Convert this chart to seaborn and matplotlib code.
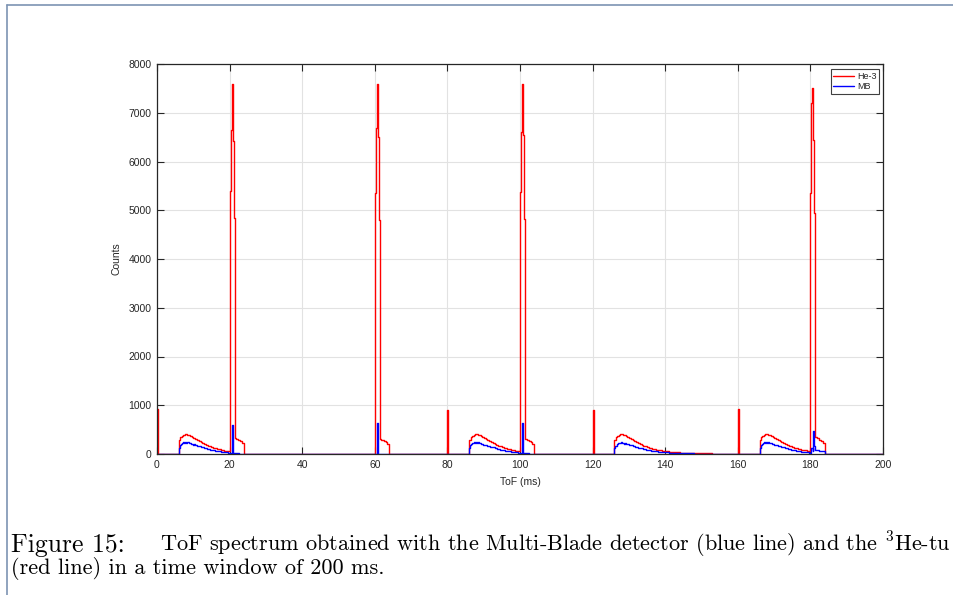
import matplotlib
matplotlib.use("Agg")
import matplotlib.pyplot as plt
from matplotlib.lines import Line2D
import numpy as np
import pandas as pd
import seaborn as sns

# ---- He-3 tube counts (step histogram: bin start time in ms, counts) ----
he3_tof = [
    0.0, 0.25,
    6.0, 6.4, 6.8, 7.2, 7.6, 8.0, 8.4, 8.8, 9.2, 9.6, 10.0, 10.5, 11.0, 11.5,
    12.0, 12.5, 13.0, 13.5, 14.0, 14.5, 15.0, 15.5, 16.0, 16.5, 17.0, 17.5,
    18.0, 18.5, 19.0, 19.5,
    20.0, 20.25, 20.55, 20.85, 21.1, 21.35, 21.8, 22.4, 23.0, 23.4, 23.85,
    60.0, 60.25, 60.55, 60.85, 61.1, 61.35, 61.8, 62.4, 63.0, 63.4, 63.85,
    80.0, 80.25,
    86.0, 86.4, 86.8, 87.2, 87.6, 88.0, 88.4, 88.8, 89.2, 89.6, 90.0, 90.5,
    91.0, 91.5, 92.0, 92.5, 93.0, 93.5, 94.0, 94.5, 95.0, 95.5, 96.0, 96.5,
    97.0, 97.5, 98.0, 98.5, 99.0, 99.5,
    100.0, 100.25, 100.55, 100.85, 101.1, 101.35, 101.8, 102.4, 103.0, 103.4, 103.85,
    120.0, 120.25,
    126.0, 126.4, 126.8, 127.2, 127.6, 128.0, 128.4, 128.8, 129.2, 129.6, 130.0,
    130.5, 131.0, 131.5, 132.0, 132.5, 133.0, 133.5, 134.0, 134.5, 135.0, 135.5,
    136.0, 136.5, 137.0, 137.5, 138.0, 139.0, 140.0, 141.0, 142.0, 143.0, 144.0,
    146.0, 148.0, 150.0, 153.0,
    160.0, 160.25,
    166.0, 166.4, 166.8, 167.2, 167.6, 168.0, 168.4, 168.8, 169.2, 169.6, 170.0,
    170.5, 171.0, 171.5, 172.0, 172.5, 173.0, 173.5, 174.0, 174.5, 175.0, 175.5,
    176.0, 176.5, 177.0, 177.5, 178.0, 178.5, 179.0, 179.5,
    180.0, 180.2, 180.55, 180.85, 181.1, 181.35, 181.8, 182.4, 183.0, 183.5, 183.95,
    200.0,
]
he3_counts = [
    920, 8,
    290, 350, 375, 395, 410, 420, 400, 385, 365, 345, 325, 300, 280, 260,
    240, 220, 200, 185, 170, 155, 140, 128, 115, 105, 95, 85,
    78, 70, 62, 55,
    5400, 6650, 7600, 6420, 4850, 330, 300, 280, 260, 220, 8,
    5350, 6690, 7590, 6510, 4800, 300, 280, 260, 240, 210, 8,
    900, 8,
    285, 345, 372, 392, 405, 415, 398, 382, 362, 342, 322, 298,
    278, 258, 238, 220, 202, 186, 170, 155, 142, 128, 116, 106,
    96, 86, 78, 70, 63, 56,
    5380, 6600, 7600, 6550, 4820, 310, 290, 270, 250, 215, 8,
    900, 8,
    290, 350, 378, 398, 410, 418, 400, 384, 364, 344, 324,
    300, 280, 258, 238, 220, 202, 186, 170, 156, 142, 130,
    118, 108, 98, 90, 80, 70, 60, 50, 42, 35, 28,
    20, 15, 11, 8,
    920, 8,
    288, 348, 374, 394, 406, 416, 398, 382, 362, 342, 322,
    298, 278, 258, 240, 222, 204, 188, 172, 157, 143, 130,
    118, 107, 97, 88, 80, 72, 64, 57,
    5350, 7200, 7500, 6440, 4940, 350, 320, 290, 260, 220, 8,
    8,
]

# ---- Multi-Blade detector counts ----
mb_tof = [
    0.0,
    6.0, 6.3, 6.6, 6.9, 7.2, 7.5, 7.8, 8.1, 8.4, 8.7, 9.0, 9.3, 9.6, 9.9, 10.2,
    10.6, 11.0, 11.4, 11.8, 12.2, 12.6, 13.0, 13.4, 13.8, 14.2, 14.6, 15.0, 15.5,
    16.0, 16.5, 17.0, 17.5, 18.0, 18.5, 19.0, 19.5, 20.0,
    20.55, 20.8, 21.3, 22.5, 24.0,
    60.5, 60.75,
    86.0, 86.3, 86.6, 86.9, 87.2, 87.5, 87.8, 88.1, 88.4, 88.7, 89.0, 89.3, 89.6,
    89.9, 90.2, 90.6, 91.0, 91.4, 91.8, 92.2, 92.6, 93.0, 93.4, 93.8, 94.2, 94.6,
    95.0, 95.5, 96.0, 96.5, 97.0, 97.5, 98.0, 98.5, 99.0, 99.5, 100.0,
    100.5, 100.75, 101.3, 102.5, 104.0,
    126.0, 126.3, 126.6, 126.9, 127.2, 127.5, 127.8, 128.1, 128.4, 128.7, 129.0,
    129.3, 129.6, 129.9, 130.2, 130.6, 131.0, 131.4, 131.8, 132.2, 132.6, 133.0,
    133.4, 133.8, 134.2, 134.6, 135.0, 135.5, 136.0, 136.5, 137.0, 137.5, 138.0,
    139.0, 140.0, 141.0, 142.0, 143.0, 144.0, 146.0, 148.0, 150.0, 153.0,
    166.0, 166.3, 166.6, 166.9, 167.2, 167.5, 167.8, 168.1, 168.4, 168.7, 169.0,
    169.3, 169.6, 169.9, 170.2, 170.6, 171.0, 171.4, 171.8, 172.2, 172.6, 173.0,
    173.4, 173.8, 174.2, 174.6, 175.0, 175.5, 176.0, 176.5, 177.0, 177.5, 178.0,
    178.5, 179.0, 179.5, 180.0,
    180.3, 180.6, 180.85, 181.1, 181.4, 181.8, 182.5, 183.3, 184.0,
    200.0,
]
mb_counts = [
    5,
    130, 180, 205, 220, 240, 228, 245, 232, 238, 220, 225, 205, 210, 192, 196,
    180, 172, 160, 155, 140, 135, 122, 118, 105, 100, 90, 86, 76,
    70, 62, 58, 50, 46, 40, 36, 30, 25,
    600, 25, 15, 10, 5,
    630, 5,
    128, 176, 204, 222, 236, 226, 242, 230, 236, 218, 222, 204, 208,
    190, 194, 178, 170, 160, 152, 140, 134, 122, 116, 104, 98, 90,
    84, 76, 68, 62, 56, 50, 45, 40, 35, 30, 25,
    640, 25, 15, 10, 5,
    125, 172, 200, 218, 232, 222, 238, 226, 232, 214, 218, 200, 204,
    186, 190, 175, 166, 156, 150, 138, 132, 120, 115, 104, 98, 90,
    85, 76, 70, 63, 58, 52, 48,
    42, 36, 30, 26, 22, 18, 13, 10, 7, 5,
    130, 178, 206, 220, 238, 226, 244, 230, 236, 218, 222, 204, 208,
    190, 194, 178, 170, 160, 152, 140, 134, 122, 116, 104, 98, 90,
    84, 76, 68, 62, 56, 50, 45, 40, 34, 30, 25,
    120, 60, 480, 160, 90, 75, 65, 55, 5,
    5,
]

x_ticks = list(range(0, 201, 20))
y_ticks = list(range(0, 8001, 1000))
series_names = ["He-3", "MB"]
series_colors = {"He-3": "#ff0000", "MB": "#0000ff"}

df = pd.concat([
    pd.DataFrame({"ToF": he3_tof, "Counts": he3_counts, "detector": "He-3"}),
    pd.DataFrame({"ToF": mb_tof, "Counts": mb_counts, "detector": "MB"}),
], ignore_index=True)

sns.set_style("ticks")
plt.rcParams["font.family"] = ["Liberation Sans", "DejaVu Sans"]
plt.rcParams["mathtext.fontset"] = "cm"

fig = plt.figure(figsize=(9.54, 5.95), dpi=100)
fig.patch.set_facecolor("white")
ax = fig.add_axes([157 / 954, 1 - 454 / 595, 726 / 954, 390 / 595])

sns.lineplot(data=df, x="ToF", y="Counts", hue="detector", hue_order=series_names,
             palette=series_colors, estimator=None, sort=False, legend=False,
             drawstyle="steps-post", linewidth=1.0, ax=ax)

ax.set_xlim(0, 200)
ax.set_ylim(0, 8000)
ax.set_xticks(x_ticks)
ax.set_yticks(y_ticks)
ax.grid(True, color="#e2e2e2", linewidth=0.8)
ax.set_axisbelow(True)
ax.tick_params(direction="in", length=5, width=0.8, color="#262626",
               labelsize=7.5, labelcolor="#262626", top=True, right=True, pad=4)
for s in ax.spines.values():
    s.set_color("#262626")
    s.set_linewidth(0.9)

ax.set_xlabel("ToF (ms)", fontsize=7.5, color="#262626")
ax.set_ylabel("Counts", fontsize=7.5, color="#262626")
ax.xaxis.set_label_coords(0.5, -23 / 390)
ax.yaxis.set_label_coords(-35 / 726, 0.5)

handles = [Line2D([], [], color=series_colors[n], lw=1.0) for n in series_names]
leg = ax.legend(handles, series_names, loc="upper right",
                bbox_to_anchor=(1 - 4 / 726, 1 - 5 / 390), borderaxespad=0,
                fontsize=6.5, handlelength=2.3, handletextpad=0.3,
                labelspacing=0.15, borderpad=0.3, fancybox=False,
                framealpha=1, edgecolor="#404040")
leg.get_frame().set_linewidth(0.8)

# page frame
frame_col = "#7d93b3"
fig.add_artist(Line2D([7 / 954, 1], [1 - 5 / 595, 1 - 5 / 595], color=frame_col,
                      lw=1.2, transform=fig.transFigure))
fig.add_artist(Line2D([7 / 954, 7 / 954], [0, 1 - 5 / 595], color=frame_col,
                      lw=1.2, transform=fig.transFigure))

# caption (first line runs to the right edge of the page)
cap_font = dict(family="cmr10", color="black", va="baseline", ha="left")
fig.text(11 / 954, 1 - 552 / 595, "Figure 15:", fontsize=18.5, **cap_font)
fig.text(160 / 954, 1 - 552 / 595,
         "ToF spectrum obtained with the Multi-Blade detector (blue line) and the $^3$He-tu",
         fontsize=16, **cap_font)
fig.text(11 / 954, 1 - 574 / 595,
         "(red line) in a time window of 200 ms.", fontsize=16, **cap_font)

fig.savefig("out.png", dpi=100)
